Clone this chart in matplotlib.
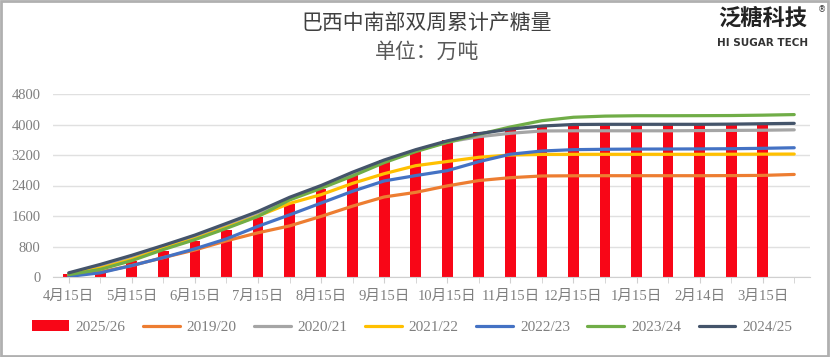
import numpy as np
import matplotlib.pyplot as plt
from matplotlib.patches import Rectangle

# bi-weekly dates (only every other one is labelled on the axis)
dates = ["4月15日", "4月30日", "5月15日", "5月31日", "6月15日", "6月30日",
         "7月15日", "7月31日", "8月15日", "8月31日", "9月15日", "9月30日",
         "10月15日", "10月31日", "11月15日", "11月30日", "12月15日", "12月31日",
         "1月15日", "1月31日", "2月14日", "2月28日", "3月15日", "3月31日"]

# bars: 2025/26 (no value for the last date)
s2526 = [90, 140, 410, 690, 945, 1220, 1580, 1910, 2320, 2690, 3060, 3300,
         3590, 3805, 3930, 3985, 3980, 3980, 3980, 3980, 3980, 3980, 3980, np.nan]

s1920 = [40, 130, 300, 510, 710, 950, 1160, 1340, 1590, 1860, 2100, 2220,
         2390, 2530, 2605, 2650, 2655, 2657, 2657, 2657, 2657, 2660, 2665, 2690]
s2021 = [90, 290, 540, 790, 1060, 1360, 1680, 2040, 2370, 2690, 3030, 3310,
         3540, 3680, 3770, 3830, 3835, 3835, 3835, 3835, 3840, 3845, 3850, 3860]
s2122 = [60, 230, 460, 750, 1000, 1300, 1600, 1930, 2160, 2457, 2710, 2920,
         3030, 3140, 3200, 3215, 3218, 3218, 3218, 3218, 3218, 3220, 3222, 3225]
s2223 = [15, 110, 300, 510, 740, 1000, 1330, 1630, 1940, 2250, 2520, 2660,
         2790, 3025, 3220, 3305, 3340, 3350, 3355, 3357, 3360, 3365, 3375, 3390]
s2324 = [60, 200, 430, 720, 980, 1276, 1590, 2020, 2326, 2650, 3000, 3290,
         3530, 3740, 3935, 4100, 4190, 4220, 4230, 4230, 4232, 4235, 4245, 4260]
s2425 = [110, 330, 570, 830, 1100, 1407, 1720, 2090, 2400, 2750, 3069, 3340,
         3570, 3760, 3880, 3960, 4000, 4005, 4005, 4005, 4005, 4010, 4020, 4030]

line_names = ["2019/20", "2020/21", "2021/22", "2022/23", "2023/24", "2024/25"]
line_data = [s1920, s2021, s2122, s2223, s2324, s2425]
line_colors = ["#ED7D31", "#A5A5A5", "#FFC000", "#4472C4", "#70AD47", "#44546A"]

yticks = [0, 800, 1600, 2400, 3200, 4000, 4800]

fnt = ["Liberation Serif", "Noto Sans CJK SC"]
grey = "#7f7f7f"

fig = plt.figure(figsize=(8.3, 3.57), dpi=100)
ax = fig.add_axes([53/830, 1-277/357, 757/830, 183/357])

x = np.arange(len(dates))
bar = ax.bar(x, s2526, width=0.34, color="#F80617", zorder=2, label="2025/26")
handles = [bar]
for name, vals, c in zip(line_names, line_data, line_colors):
    h, = ax.plot(x, vals, color=c, lw=2.3, zorder=3, label=name,
                 solid_capstyle="round")
    handles.append(h)

ax.set_xlim(-0.5, len(dates) - 0.5)
ax.set_ylim(0, 4800)
ax.set_yticks(yticks)
ax.set_yticklabels([str(v) for v in yticks], family=fnt, fontsize=10.5, color=grey)
ax.set_xticks(x[::2])
ax.set_xticklabels(dates[::2], family=fnt, fontsize=10.5, color=grey)
ax.set_xticks(x[1::2], minor=True)
ax.tick_params(axis="y", length=0, pad=9)
ax.tick_params(axis="x", which="both", length=4, color="#d0d0d0", pad=5)
ax.grid(axis="y", color="#e0e0e0", lw=1, zorder=0)
for s in ["left", "right", "top"]:
    ax.spines[s].set_visible(False)
ax.spines["bottom"].set_color("#d0d0d0")
ax.set_axisbelow(True)

fig.legend(handles, ["2025/26"] + line_names, loc="center",
           bbox_to_anchor=(412/830, 1-327/357), ncol=7, frameon=False,
           prop={"family": fnt, "size": 11}, labelcolor=grey,
           handlelength=2.4, handletextpad=0.45, columnspacing=1.15)

# titles
fig.text(427/830, 1-23/357, "巴西中南部双周累计产糖量", ha="center", va="center",
         family="Noto Sans CJK SC", fontsize=15, color="#404040")
fig.text(427/830, 1-52/357, "单位：万吨", ha="center", va="center",
         family="Noto Sans CJK SC", fontsize=15, color="#595959")

# logo
fig.text(763/830, 1-18/357, "泛糖科技", ha="center", va="center",
         family="Noto Sans CJK SC", fontsize=16, fontweight="bold", color="#222222")
fig.text(763/830, 1-43/357, "HI SUGAR TECH", ha="center", va="center",
         family="DejaVu Sans", fontsize=7.5, fontweight="bold", color="#333333")
fig.text(822/830, 1-10/357, "®", ha="center", va="center",
         family="DejaVu Sans", fontsize=6, color="#333333")

# outer frame
fig.patches.append(Rectangle((0.001, 0.002), 0.997, 0.995, transform=fig.transFigure,
                             fill=False, edgecolor="#b0b0b0", lw=2))

fig.savefig("out.png", dpi=100)
